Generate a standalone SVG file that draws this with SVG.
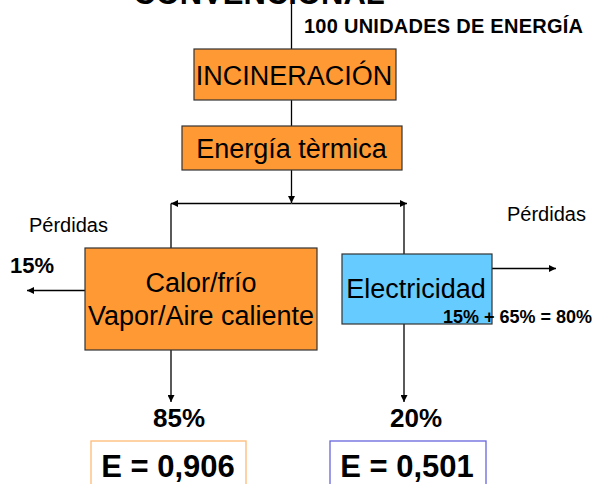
<svg xmlns="http://www.w3.org/2000/svg" width="594" height="484" viewBox="0 0 594 484">
<style>
text{font-family:"Liberation Sans",Arial,sans-serif;fill:#000}
.b{font-weight:bold}
.orange{fill:#ff9933;stroke:#333;stroke-width:1.2}
.blue{fill:#66ccff;stroke:#333;stroke-width:1.2}
.ln{stroke:#000;stroke-width:1.3;fill:none}
</style>
<defs>
<marker id="ah" viewBox="0 0 10 10" refX="10" refY="5" markerWidth="7" markerHeight="7" markerUnits="userSpaceOnUse" orient="auto">
<path d="M0,0L10,5L0,10z" fill="#000"/>
</marker>
</defs>
<rect width="594" height="484" fill="#fff"/>
<text class="b" x="259" y="4" font-size="31" text-anchor="middle">CONVENCIONAL</text>
<text class="b" x="304" y="33" font-size="20" textLength="279">100 UNIDADES DE ENERGÍA</text>
<g id="connectors">
<line class="ln" x1="291.5" y1="4" x2="291.5" y2="49"/>
<line class="ln" x1="291.5" y1="100" x2="291.5" y2="126"/>
<line class="ln" x1="291.5" y1="170" x2="291.5" y2="203" marker-end="url(#ah)"/>
<line class="ln" x1="291.5" y1="203.5" x2="171" y2="203.5" marker-end="url(#ah)"/>
<line class="ln" x1="291.5" y1="203.5" x2="407" y2="203.5" marker-end="url(#ah)"/>
<line class="ln" x1="171" y1="203.5" x2="171" y2="248"/>
<line class="ln" x1="404" y1="203.5" x2="404" y2="254"/>
<line class="ln" x1="85" y1="290.5" x2="27" y2="290.5" marker-end="url(#ah)"/>
<line class="ln" x1="492" y1="268.5" x2="556" y2="268.5" stroke="#444" marker-end="url(#ah)"/>
<line class="ln" x1="171" y1="350" x2="171" y2="402" marker-end="url(#ah)"/>
<line class="ln" x1="404" y1="324" x2="404" y2="402" marker-end="url(#ah)"/>
</g>
<g id="incineracion">
<rect class="orange" x="194" y="49" width="202" height="51"/>
<text x="294" y="85" font-size="27" text-anchor="middle">INCINERACIÓN</text>
</g>
<g id="energia-termica">
<rect class="orange" x="182" y="126" width="220" height="44"/>
<text x="291.5" y="158" font-size="27" text-anchor="middle">Energía tèrmica</text>
</g>
<g id="calor">
<rect class="orange" x="85" y="248" width="232" height="102"/>
<text x="201" y="292" font-size="27" text-anchor="middle">Calor/frío</text>
<text x="201" y="325" font-size="27" text-anchor="middle">Vapor/Aire caliente</text>
</g>
<g id="electricidad">
<rect class="blue" x="342" y="254" width="150" height="70"/>
<text x="416" y="298" font-size="27" text-anchor="middle">Electricidad</text>
</g>
<g id="labels">
<text x="29" y="232" font-size="20">Pérdidas</text>
<text class="b" x="10" y="273" font-size="22">15%</text>
<text x="507" y="221" font-size="20">Pérdidas</text>
<text class="b" x="443" y="323" font-size="18">15% + 65% = 80%</text>
<text class="b" x="179" y="427" font-size="26" text-anchor="middle">85%</text>
<text class="b" x="416" y="427" font-size="26" text-anchor="middle">20%</text>
</g>
<g id="e-calor">
<rect x="91" y="441" width="155" height="60" fill="none" stroke="#ffbb77" stroke-width="1.3"/>
<text class="b" x="168" y="477" font-size="31" text-anchor="middle">E = 0,906</text>
</g>
<g id="e-electricidad">
<rect x="330" y="441" width="156" height="60" fill="none" stroke="#6666dd" stroke-width="1.3"/>
<text class="b" x="407" y="477" font-size="31" text-anchor="middle">E = 0,501</text>
</g>
</svg>
